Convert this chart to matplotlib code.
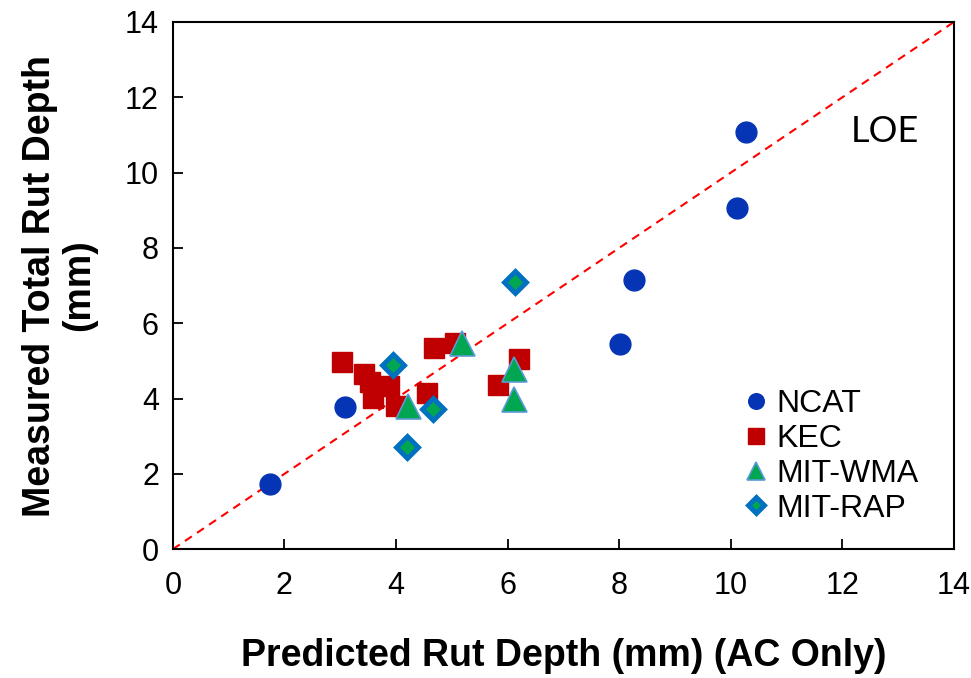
import matplotlib
matplotlib.use("Agg")
import matplotlib.pyplot as plt

plt.rcParams['font.family'] = ['Liberation Sans', 'DejaVu Sans']

# data (predicted, measured) in mm
ncat_x = [1.75, 3.08, 8.01, 8.27, 10.11, 10.28]
ncat_y = [1.72, 3.78, 5.45, 7.15, 9.05, 11.07]

kec_x = [3.04, 3.42, 3.53, 3.59, 3.87, 4.00, 4.55, 4.68, 5.05, 5.82, 6.20]
kec_y = [4.97, 4.66, 4.45, 4.02, 4.33, 3.79, 4.15, 5.35, 5.47, 4.35, 5.05]

wma_x = [4.22, 5.19, 6.12, 6.12]
wma_y = [3.80, 5.47, 4.78, 3.98]

rap_x = [3.94, 4.66, 4.20, 6.13]
rap_y = [4.88, 3.71, 2.71, 7.09]

loe = [0, 14]

fig = plt.figure(figsize=(9.71, 6.78), dpi=100)
ax = fig.add_axes([0.178, 0.19, 0.8045, 0.7776])

ax.plot(loe, loe, color='red', ls=(0, (4, 3)), lw=1.5, zorder=1)

ax.plot(ncat_x, ncat_y, 'o', ms=15, color='#0535B5', mec='#0535B5',
        label='NCAT', zorder=3)
ax.plot(kec_x, kec_y, 's', ms=15, color='#C00000', mec='#C00000',
        label='KEC', zorder=2)
ax.plot(wma_x, wma_y, '^', ms=18, color='#00A650', mec='#5B9BD5', mew=1.2,
        label='MIT-WMA', zorder=4)
ax.plot(rap_x, rap_y, 'D', ms=11.5, color='#00A650', mec='#0070C0', mew=3.5,
        label='MIT-RAP', zorder=4)

ax.set_xlim(0, 14)
ax.set_ylim(0, 14)
ax.set_xticks(range(0, 15, 2))
ax.set_yticks(range(0, 15, 2))
ax.tick_params(direction='in', length=7, width=1.3, labelsize=22, pad=16)
ax.tick_params(axis='y', pad=10)
for s in ax.spines.values():
    s.set_linewidth(1.5)

ax.set_xlabel('Predicted Rut Depth (mm) (AC Only)', fontsize=27,
              fontweight='bold', labelpad=26)
ax.set_ylabel('Measured Total Rut Depth\n(mm)', fontsize=27,
              fontweight='bold', labelpad=20, linespacing=1.1)

ax.text(12.76, 11.1, 'LOE', fontsize=26, family=['Lato', 'DejaVu Sans'],
        ha='center', va='center')

ax.legend(loc='lower right', bbox_to_anchor=(0.988, 0.0), frameon=False,
          fontsize=23, handletextpad=0.05, labelspacing=0.15,
          handlelength=1.2, markerscale=0.75, borderaxespad=0.4)

fig.savefig('out.png', dpi=100)
